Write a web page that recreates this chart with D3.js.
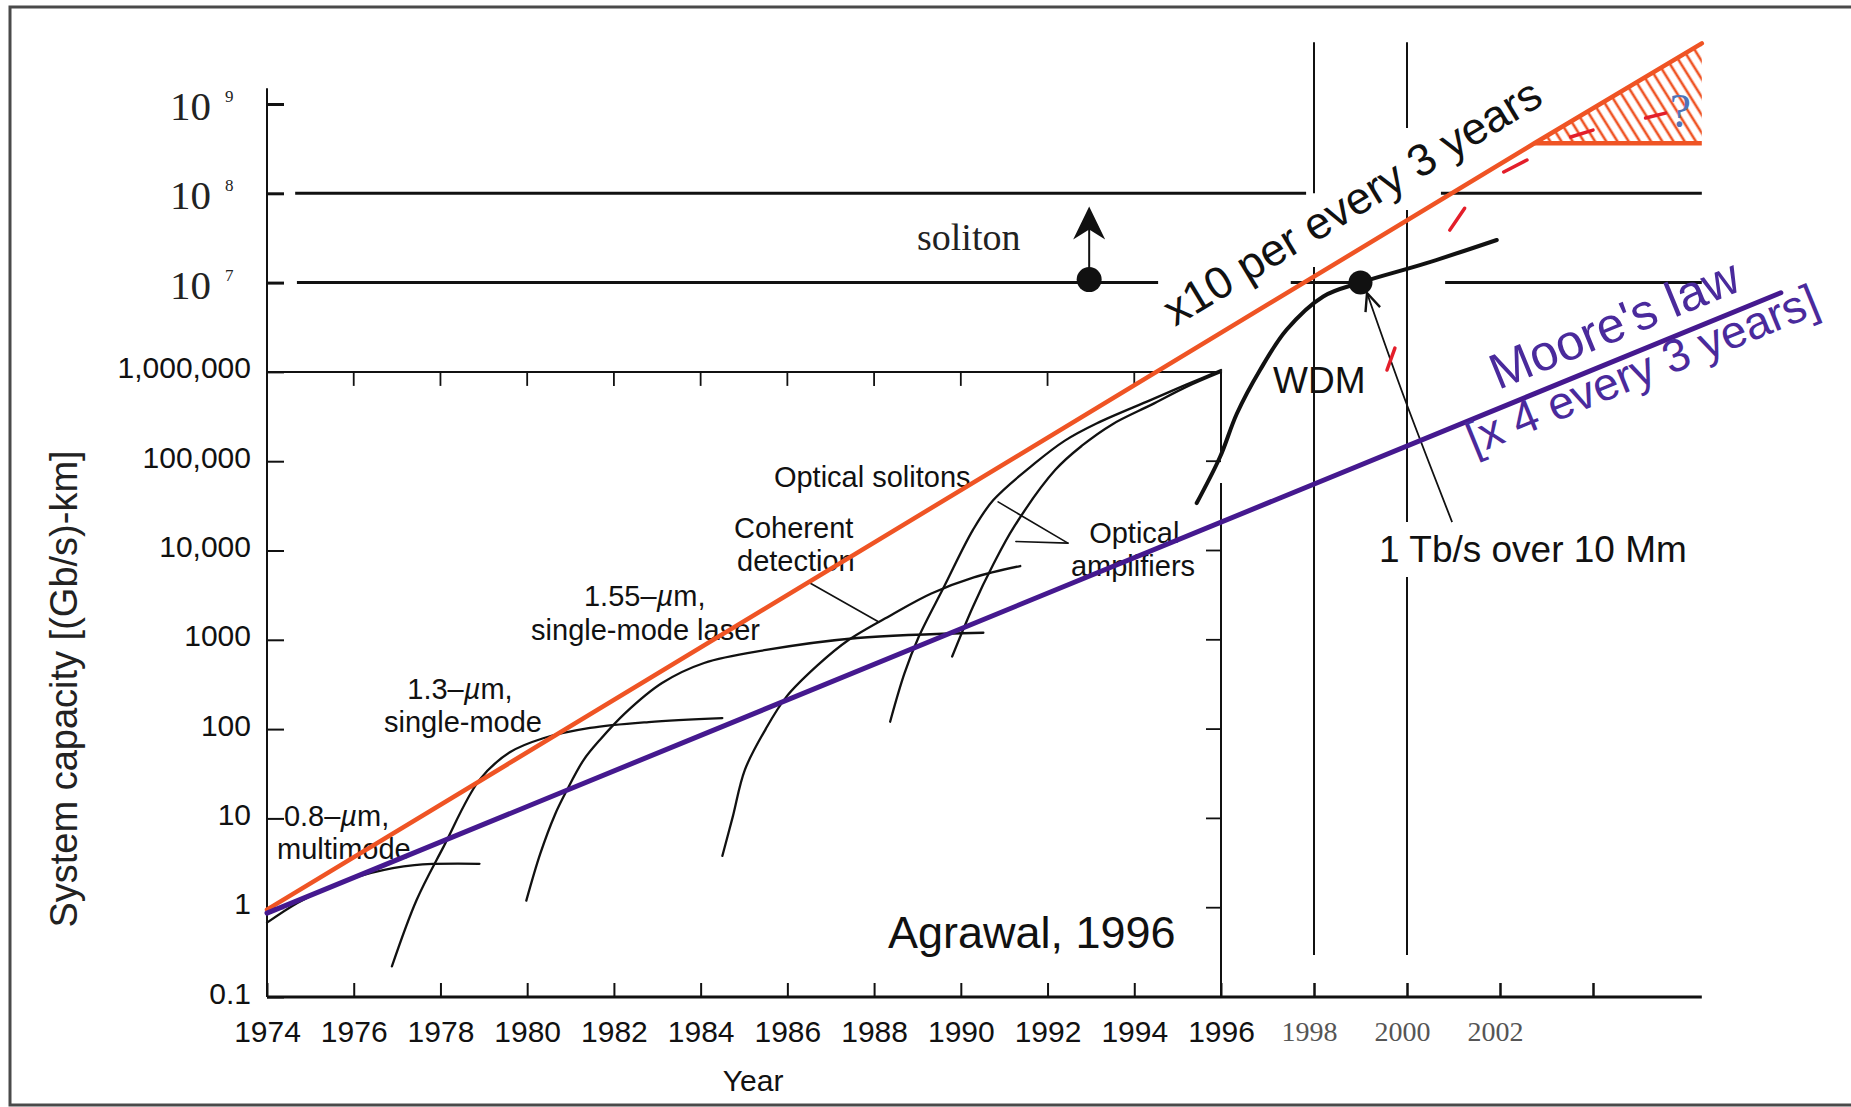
<!DOCTYPE html>
<html><head><meta charset="utf-8">
<script src="https://cdn.jsdelivr.net/npm/d3@7"></script>
<style>body{margin:0;background:#fff} svg{display:block}</style>
</head><body>
<svg id="chart" width="1851" height="1107"></svg>
<script>
// ---------------- data ----------------
const yTickValues = [0.1, 1, 10, 100, 1000, 10000, 100000, 1000000];
const yTickLabels = ["0.1", "1", "10", "100", "1000", "10,000", "100,000", "1,000,000"];
const yUpperTicks = [1e7, 1e8, 1e9];
const yUpperExponents = ["7", "8", "9"];
const xTickYearsLeft = [1974, 1976, 1978, 1980, 1982, 1984, 1986, 1988, 1990, 1992, 1994, 1996];
const xTickLabelsLeft = ["1974", "1976", "1978", "1980", "1982", "1984", "1986", "1988", "1990", "1992", "1994", "1996"];
const xTickYearsRight = [1998, 2000, 2002, 2004];
const xTickLabelsRight = ["1998", "2000", "2002", ""];
const boxTopTicks = [1976, 1978, 1980, 1982, 1984, 1986, 1988, 1990, 1992, 1994];
const boxRightTicks = [1, 10, 100, 1000, 10000, 100000];

// technology curves [year, capacity (Gb/s)-km]
const mm08 = [[1974, 0.68], [1974.7, 1.13], [1975.45, 1.7], [1976.4, 2.45], [1977.4, 3.0], [1978.9, 3.1]];
const sm13 = [[1976.88, 0.22], [1977.45, 1.22], [1978.07, 4.8], [1978.9, 27], [1979.6, 55], [1980.37, 79], [1981.45, 103], [1982.8, 120], [1984.5, 133]];
const laser155 = [[1979.98, 1.2], [1980.3, 4], [1980.64, 11], [1980.9, 20], [1981.3, 45], [1981.68, 76], [1982.26, 151], [1983.11, 328], [1984.08, 550], [1985.51, 769], [1987.61, 1047], [1990.52, 1200]];
const coherent = [[1984.5, 3.8], [1984.74, 10.4], [1985.02, 35], [1985.5, 100], [1985.98, 231], [1986.7, 520], [1987.41, 995], [1988.4, 1900], [1989.32, 3300], [1990.3, 5000], [1991.37, 6700]];
const solitons = [[1988.37, 121], [1988.7, 420], [1989.03, 1080], [1989.61, 3900], [1990.28, 17000], [1990.75, 36700], [1991.71, 95000], [1992.4, 170000], [1993.14, 266000], [1994.36, 480000], [1995.2, 720000], [1996, 1.05e6]];
const amplifiers = [[1989.8, 650], [1990.28, 2350], [1990.75, 7000], [1991.23, 18500], [1992.18, 80000], [1992.8, 150000], [1993.5, 260000], [1994.4, 430000], [1995.2, 680000], [1996, 1.0e6]];
const wdm = [[1995.44, 3.4e4], [1995.98, 1.12e5], [1996.34, 3.4e5], [1996.84, 1.05e6], [1997.41, 2.96e6], [1998.2, 7.0e6], [1999.0, 1.0e7], [2000.4, 1.64e7], [2001.93, 3.0e7]];

// trend lines
const mooreLaw = [[1974, 0.87], [2008.04, 7.7e6]];
const tenfold = [[1974, 0.95], [2002.74, 3.63e8], [2006.34, 4.78e9]];
const hatchRegion = [[2002.74, 3.63e8], [2006.34, 3.63e8], [2006.34, 4.78e9]];
const redDashes = [
  [[1999.57, 1.05e6], [1999.74, 1.85e6]],
  [[2000.92, 3.87e7], [2001.24, 6.8e7]],
  [[2002.08, 1.73e8], [2002.58, 2.36e8]],
  [[2003.52, 4.27e8], [2004.0, 5.1e8]],
  [[2005.13, 6.97e8], [2005.56, 7.9e8]]
];

// frame lines [yearFrom, yearTo, value] and [year, valueFrom, valueTo]
const upperHLines = [[1974.65, 1997.83, 1e8], [2000.73, 2006.34, 1e8], [1974.69, 1994.55, 1e7], [1997.5, 1999.03, 1e7], [2000.82, 2006.34, 1e7]];
const vLines = [[1998, 4.9e9, 1e8], [1998, 1.5e7, 0.295], [2000, 4.9e9, 5.4e8], [2000, 6.5e7, 2.08e4], [2000, 5050, 0.295]];
const boxRightSegs = [[1996, 1e6, 1.11e5], [1996, 5.7e4, 0.1]];

// marks
const solitonMark = [1992.96, 1.08e7];
const solitonArrowTip = [1992.96, 7.1e7];
const tbMark = [1999.0, 1.0e7];
const tbArrow = [[2000.97, 2.08e4], [1999.96, 4.84e5], [1999.14, 7.65e6]];
const pointerCoherent = [[1986.48, 4440], [1988.11, 1580]];
const pointerAmp = [[[1990.86, 3.5e4], [1992.47, 1.21e4]], [[1991.27, 1.26e4], [1992.47, 1.21e4]]];

// ---------------- drawing ----------------
const SANS = "'Liberation Sans', Arial, Helvetica, sans-serif";
const SERIF = "'Liberation Serif', 'Times New Roman', serif";
const ORANGE = "#ef5424", PURPLE = "#45198f", RED = "#e31e2a", INK = "#111";

const svg = d3.select('#chart');
const x = d3.scaleLinear().domain([1974, 1996, 2004]).range([267, 1221, 1593]);
const y = d3.scaleLog().domain([0.1, 1e9]).range([997, 104]);
const straight = d3.line().x(d => x(d[0])).y(d => y(d[1]));
const smooth = d3.line().x(d => x(d[0])).y(d => y(d[1])).curve(d3.curveCatmullRom.alpha(0.5));

const defs = svg.append('defs');
const pat = defs.append('pattern').attr('id', 'hatch').attr('patternUnits', 'userSpaceOnUse')
  .attr('width', 9.5).attr('height', 20).attr('patternTransform', 'rotate(-32)');
pat.append('line').attr('x1', 4.75).attr('y1', -2).attr('x2', 4.75).attr('y2', 22)
  .attr('stroke', ORANGE).attr('stroke-width', 2.6);
defs.append('marker').attr('id', 'openArrow').attr('viewBox', '0 0 20 20').attr('refX', 18).attr('refY', 10)
  .attr('markerWidth', 22).attr('markerHeight', 22).attr('markerUnits', 'userSpaceOnUse').attr('orient', 'auto')
  .append('path').attr('d', 'M2,3 L18,10 L2,17').attr('fill', 'none').attr('stroke', INK).attr('stroke-width', 2.2);

// outer frame
svg.append('rect').attr('x', 10).attr('y', 7).attr('width', 1900).attr('height', 1098)
  .attr('fill', 'none').attr('stroke', '#4a4a4a').attr('stroke-width', 3);

// y axis (lower, labelled numerically)
const gy = svg.append('g').attr('transform', `translate(${x(1974)},0)`)
  .call(d3.axisLeft(y).tickValues(yTickValues).tickFormat((d, i) => yTickLabels[i])
    .tickSizeInner(-17).tickSizeOuter(0).tickPadding(16));
gy.select('.domain').remove();
gy.selectAll('line').attr('stroke', INK).attr('stroke-width', 2);
gy.selectAll('text').attr('font-family', SANS).attr('font-size', 30).attr('fill', INK).attr('dy', '0.2em');

// y axis upper (powers of ten)
const gyu = svg.append('g').attr('transform', `translate(${x(1974)},0)`)
  .call(d3.axisLeft(y).tickValues(yUpperTicks).tickFormat('').tickSizeInner(-17).tickSizeOuter(0));
gyu.select('.domain').remove();
gyu.selectAll('line').attr('stroke', INK).attr('stroke-width', 3);
yUpperTicks.forEach((v, i) => {
  const t = svg.append('text').attr('x', 170).attr('y', y(v) + 16)
    .attr('font-family', SERIF).attr('font-size', 41).attr('fill', '#222');
  t.append('tspan').text('10');
  t.append('tspan').attr('x', 225).attr('y', y(v) - 2).attr('font-size', 17).text(yUpperExponents[i]);
});
// axis spine
svg.append('path').attr('d', straight([[1974, 0.1], [1974, 1.5e9]])).attr('stroke', INK).attr('stroke-width', 2).attr('fill', 'none');

// x axis
const gx = svg.append('g').attr('transform', `translate(0,${y(0.1)})`)
  .call(d3.axisBottom(x).tickValues(xTickYearsLeft).tickFormat((d, i) => xTickLabelsLeft[i])
    .tickSizeInner(-14).tickSizeOuter(0).tickPadding(24));
gx.select('.domain').remove();
gx.selectAll('line').attr('stroke', INK).attr('stroke-width', 2);
gx.selectAll('text').attr('font-family', SANS).attr('font-size', 30).attr('fill', INK);
const gx2 = svg.append('g').attr('transform', `translate(0,${y(0.1)})`)
  .call(d3.axisBottom(x).tickValues(xTickYearsRight).tickFormat((d, i) => xTickLabelsRight[i])
    .tickSizeInner(-14).tickSizeOuter(0).tickPadding(24));
gx2.select('.domain').remove();
gx2.selectAll('line').attr('stroke', INK).attr('stroke-width', 2.5);
gx2.selectAll('text').attr('font-family', SERIF).attr('font-size', 28).attr('fill', '#555').attr('dx', -5);
svg.append('path').attr('d', straight([[1974, 0.1], [2006.34, 0.1]])).attr('stroke', INK).attr('stroke-width', 3).attr('fill', 'none');

// Axis titles
svg.append('text').attr('x', x(1985.21)).attr('y', 1091).attr('text-anchor', 'middle')
  .attr('font-family', SANS).attr('font-size', 30).attr('fill', INK).text('Year');
svg.append('text').attr('transform', 'translate(77,689) rotate(-90)').attr('text-anchor', 'middle')
  .attr('font-family', SANS).attr('font-size', 38).attr('fill', '#222').text('System capacity [(Gb/s)-km]');

// frame structure
const frame = svg.append('g').attr('fill', 'none').attr('stroke', INK);
upperHLines.forEach(d => frame.append('path').attr('d', straight([[d[0], d[2]], [d[1], d[2]]])).attr('stroke-width', 3));
vLines.forEach(d => frame.append('path').attr('d', straight([[d[0], d[1]], [d[0], d[2]]])).attr('stroke-width', 2));
frame.append('path').attr('d', straight([[1974, 1e6], [1996, 1e6]])).attr('stroke-width', 2);
boxRightSegs.forEach(d => frame.append('path').attr('d', straight([[d[0], d[1]], [d[0], d[2]]])).attr('stroke-width', 2));
boxTopTicks.forEach(yr => frame.append('line').attr('x1', x(yr)).attr('x2', x(yr)).attr('y1', y(1e6)).attr('y2', y(1e6) + 14).attr('stroke-width', 1.8));
boxRightTicks.forEach(v => frame.append('line').attr('x1', x(1996)).attr('x2', x(1996) - 15).attr('y1', y(v)).attr('y2', y(v)).attr('stroke-width', 1.8));

// technology curves
const curves = svg.append('g').attr('fill', 'none').attr('stroke', INK).attr('stroke-linecap', 'round');
[mm08, sm13, laser155, coherent, solitons, amplifiers].forEach(c =>
  curves.append('path').attr('d', smooth(c)).attr('stroke-width', 2.3));
curves.append('path').attr('d', smooth(wdm)).attr('stroke-width', 4);

// pointers
curves.append('path').attr('d', straight(pointerCoherent)).attr('stroke-width', 1.6);
pointerAmp.forEach(p => curves.append('path').attr('d', straight(p)).attr('stroke-width', 1.6));

// labels (Agrawal figure)
function label(txt, yr, v, opts = {}) {
  const t = svg.append('text').attr('x', x(yr)).attr('y', y(v))
    .attr('font-family', opts.font || SANS).attr('font-size', opts.size || 30)
    .attr('fill', opts.fill || INK).attr('text-anchor', opts.anchor || 'start');
  if (Array.isArray(txt)) {
    txt.forEach(p => t.append('tspan').attr('font-style', p[1] ? 'italic' : null).text(p[0]));
  } else t.text(txt);
  return t;
}
label([['0.8–'], ['µ', 1], ['m,']], 1974.39, 8.2, { size: 29 });
label('multimode', 1974.23, 3.51, { size: 29 });
label([['1.3–'], ['µ', 1], ['m,']], 1978.45, 215, { anchor: 'middle', size: 29 });
label('single-mode', 1978.52, 93, { anchor: 'middle', size: 29 });
label([['1.55–'], ['µ', 1], ['m,']], 1981.31, 2400, { size: 29 });
label('single-mode laser', 1980.09, 995, { size: 29 });
label('Coherent', 1984.77, 1.38e4, { size: 29 });
label('detection', 1984.84, 5820, { size: 29 });
label('Optical solitons', 1985.69, 5.14e4, { size: 29 });
label('Optical', 1992.96, 1.2e4, { size: 29 });
label('amplifiers', 1992.54, 5200, { size: 29 });
label('Agrawal, 1996', 1988.32, 0.354, { size: 45 });
label('WDM', 1997.12, 5.8e5, { size: 37 });
label('1 Tb/s over 10 Mm', 1999.4, 7400, { size: 37 });
label('soliton', 1988.99, 2.32e7, { font: SERIF, size: 38, fill: '#222' });

// soliton mark with arrow
svg.append('line').attr('x1', x(solitonMark[0])).attr('x2', x(solitonArrowTip[0]))
  .attr('y1', y(solitonMark[1])).attr('y2', y(solitonArrowTip[1]) + 20).attr('stroke', INK).attr('stroke-width', 2);
{
  const tx = x(solitonArrowTip[0]), ty = y(solitonArrowTip[1]);
  svg.append('path').attr('d', `M${tx},${ty} L${tx + 16},${ty + 33} L${tx},${ty + 23} L${tx - 16},${ty + 33} Z`).attr('fill', INK);
}
svg.append('circle').attr('cx', x(solitonMark[0])).attr('cy', y(solitonMark[1])).attr('r', 12.5).attr('fill', INK);

// 1 Tb/s arrow + mark
svg.append('path').attr('d', d3.line().x(d => x(d[0])).y(d => y(d[1])).curve(d3.curveNatural)(tbArrow))
  .attr('fill', 'none').attr('stroke', INK).attr('stroke-width', 1.8).attr('marker-end', 'url(#openArrow)');
svg.append('circle').attr('cx', x(tbMark[0])).attr('cy', y(tbMark[1])).attr('r', 12).attr('fill', INK);

// trend lines
svg.append('path').attr('d', straight(hatchRegion)).attr('fill', 'url(#hatch)').attr('stroke', 'none');
svg.append('path').attr('d', straight([hatchRegion[0], hatchRegion[1]])).attr('stroke', ORANGE).attr('stroke-width', 4.5).attr('fill', 'none');
svg.append('path').attr('d', straight(tenfold)).attr('stroke', ORANGE).attr('stroke-width', 4.5).attr('fill', 'none').attr('stroke-linecap', 'round');
svg.append('path').attr('d', straight(mooreLaw)).attr('stroke', PURPLE).attr('stroke-width', 5).attr('fill', 'none').attr('stroke-linecap', 'round');
redDashes.forEach(d => svg.append('path').attr('d', straight(d)).attr('stroke', RED).attr('stroke-width', 3.5).attr('stroke-linecap', 'round'));
label('?', 2005.65, 5.5e8, { font: SERIF, size: 48, fill: '#4f74b8' });

// rotated trend texts
function angleOf(p0, p1) {
  return Math.atan2(y(p1[1]) - y(p0[1]), x(p1[0]) - x(p0[0])) * 180 / Math.PI;
}
const aTen = angleOf(tenfold[0], tenfold[1]);
const aMoore = angleOf(mooreLaw[0], mooreLaw[1]);
function rotText(txt, yr, v, ang, size, fill) {
  svg.append('text').attr('transform', `translate(${x(yr)},${y(v)}) rotate(${ang})`)
    .attr('font-family', SANS).attr('font-size', size).attr('fill', fill).text(txt);
}
rotText('x10 per every 3 years', 1994.94, 3.18e6, aTen, 45, INK);
rotText("Moore's law", 2001.96, 6.27e5, aMoore, 50, '#4a2a9c');
rotText('[x 4 every 3 years]', 2001.44, 1.17e5, aMoore, 46, '#4a2a9c');
</script>
</body></html>
